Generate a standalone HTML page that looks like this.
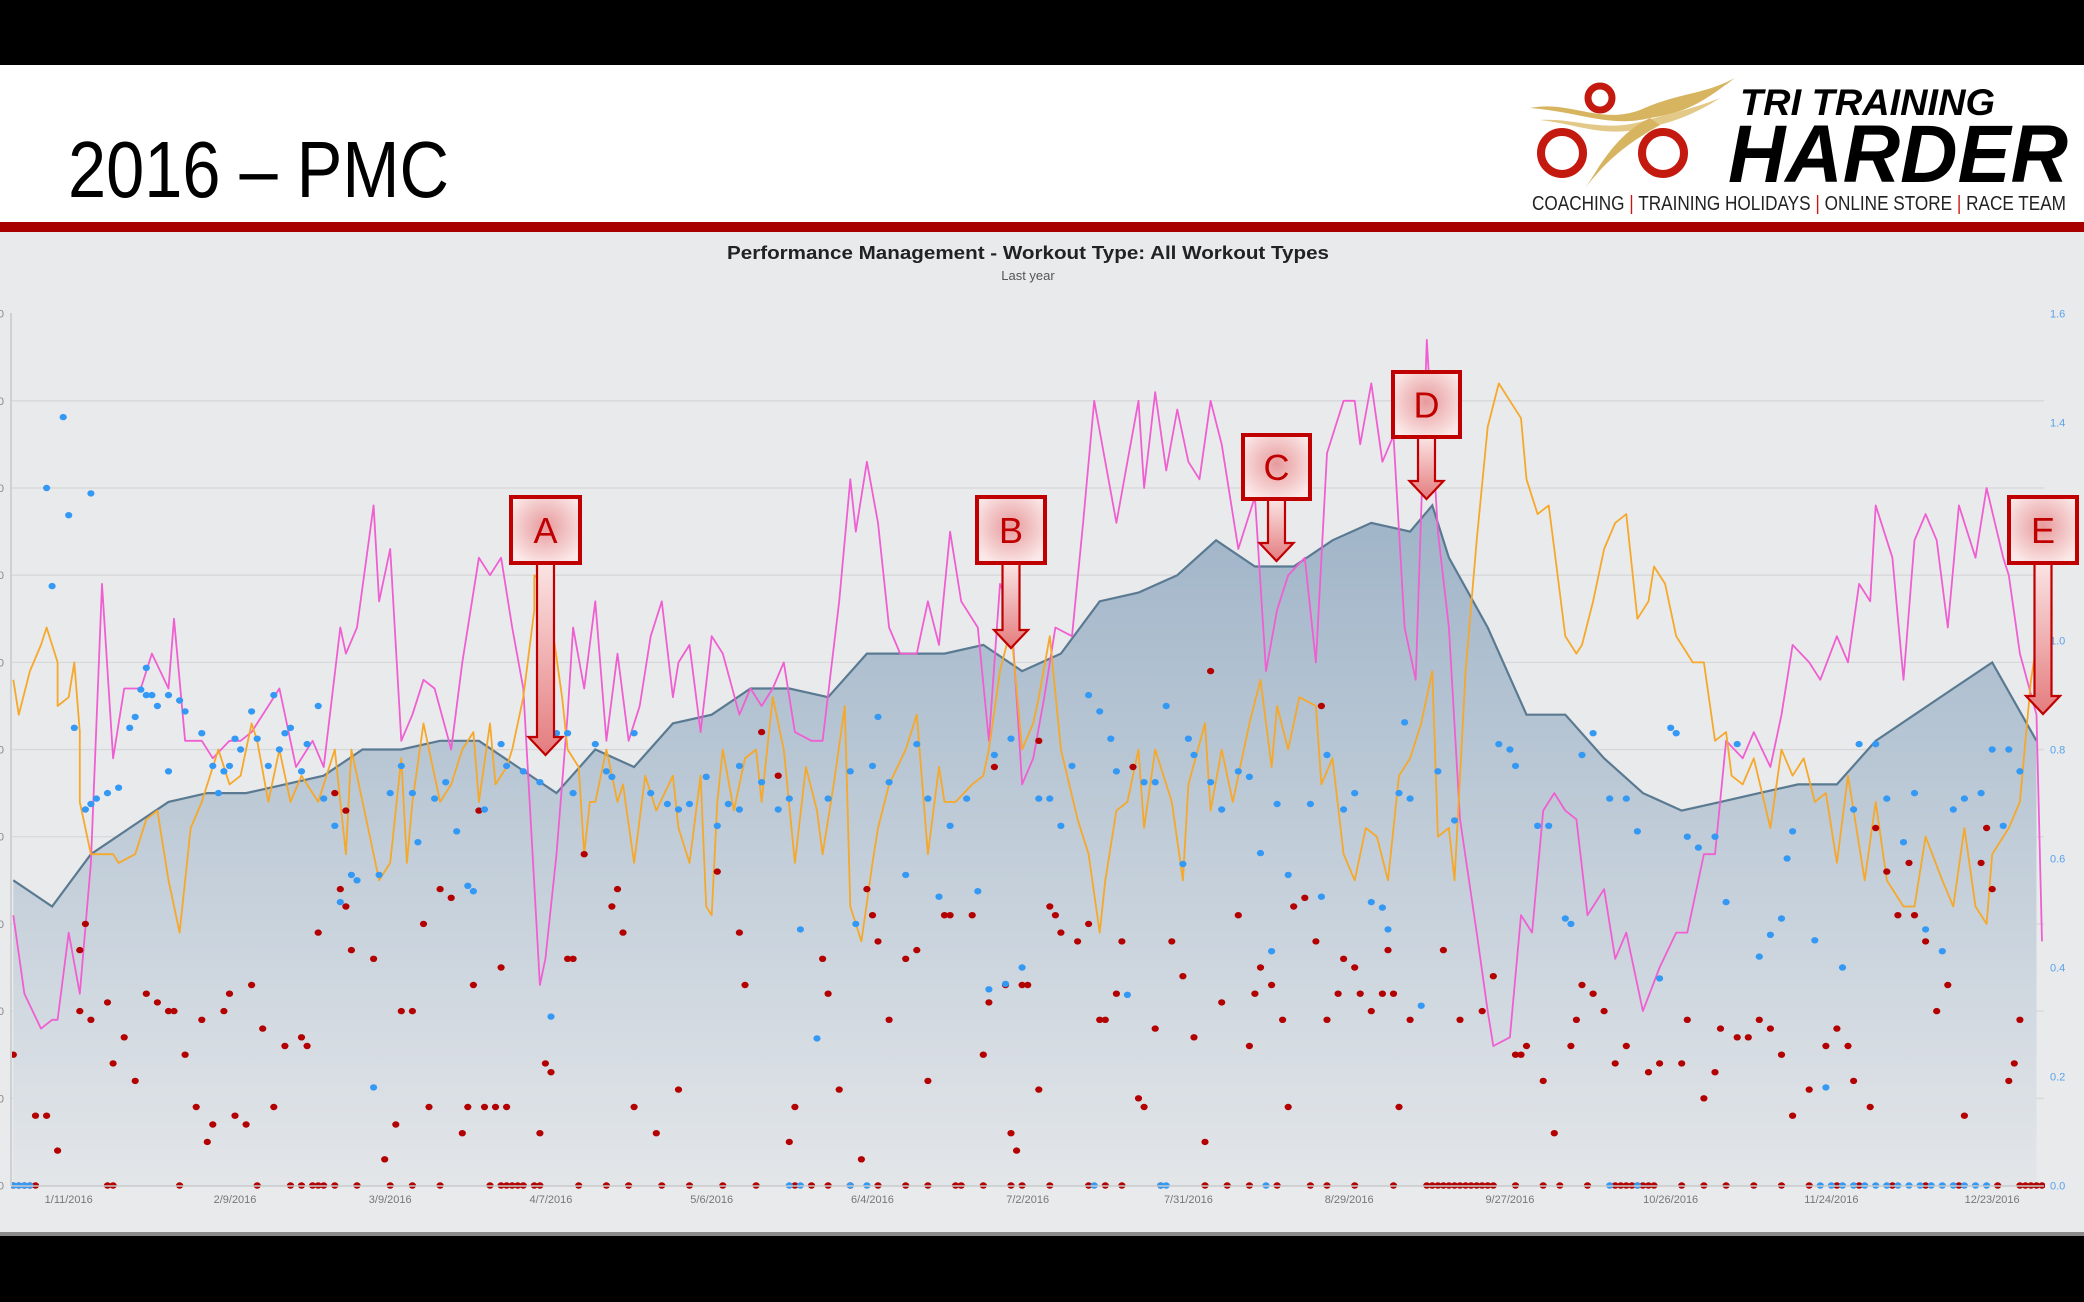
<!DOCTYPE html>
<html><head><meta charset="utf-8">
<style>
html,body{margin:0;padding:0;background:#000;}
svg{display:block;font-family:"Liberation Sans",Arial,sans-serif;}
</style></head>
<body>
<svg id="root" width="2084" height="1302" viewBox="0 0 2084 1302" xmlns="http://www.w3.org/2000/svg">
<defs>
<linearGradient id="areaGrad" x1="0" y1="0" x2="0" y2="1">
<stop offset="0" stop-color="#9fb4c8"/><stop offset="1" stop-color="#e3e6e9"/>
</linearGradient>
<radialGradient id="boxGrad" cx="0.5" cy="0.45" r="0.6">
<stop offset="0" stop-color="#e79a9c"/><stop offset="1" stop-color="#fbe8e8"/>
</radialGradient>
<linearGradient id="shaftGrad" x1="0" y1="0" x2="0" y2="1">
<stop offset="0" stop-color="#fbe4e4"/><stop offset="1" stop-color="#e47c7e"/>
</linearGradient>
<clipPath id="plotClip"><rect x="11" y="300" width="2034" height="890"/></clipPath>
</defs>
<rect x="0" y="0" width="2084" height="65" fill="#000"/>
<rect x="0" y="65" width="2084" height="157" fill="#fff"/>
<text x="68" y="197" font-size="80" fill="#000" textLength="381" lengthAdjust="spacingAndGlyphs">2016 – PMC</text>
<g>
<path d="M1530,108 C1570,100 1600,125 1640,110 C1680,92 1700,96 1735,78 C1705,100 1690,112 1650,118 C1610,128 1580,112 1530,108 Z" fill="#d7b560"/>
<path d="M1540,120 C1575,118 1600,132 1640,122 C1660,116 1690,110 1720,98 C1690,118 1660,126 1635,130 C1600,136 1575,124 1540,120 Z" fill="#e3c988"/>
<path d="M1650,118 C1625,130 1610,150 1598,168 C1592,178 1588,184 1585,188 C1600,170 1615,150 1660,125 Z" fill="#d7b560"/>
<circle cx="1600" cy="98" r="12" fill="none" stroke="#c4190f" stroke-width="7"/>
<circle cx="1562" cy="153" r="21" fill="none" stroke="#c4190f" stroke-width="8"/>
<circle cx="1663" cy="153" r="21" fill="none" stroke="#c4190f" stroke-width="8"/>
<text x="1740" y="115" font-size="37" font-weight="bold" font-style="italic" fill="#000" textLength="255" lengthAdjust="spacingAndGlyphs">TRI TRAINING</text>
<text x="1728" y="182" font-size="82" font-weight="bold" font-style="italic" fill="#000" textLength="340" lengthAdjust="spacingAndGlyphs">HARDER</text>
<text x="1532" y="210" font-size="20" fill="#222" textLength="534" lengthAdjust="spacingAndGlyphs">COACHING <tspan fill="#c4190f">|</tspan> TRAINING HOLIDAYS <tspan fill="#c4190f">|</tspan> ONLINE STORE <tspan fill="#c4190f">|</tspan> RACE TEAM</text>
</g>
<rect x="0" y="222" width="2084" height="10" fill="#a80000"/>
<rect x="0" y="232" width="2084" height="1002" fill="#e9eaec"/>
<rect x="0" y="1232" width="2084" height="4" fill="#8a8a8a"/>
<rect x="0" y="1236" width="2084" height="66" fill="#000"/>
<text x="1028" y="259" font-size="18" font-weight="bold" fill="#222" text-anchor="middle" textLength="602" lengthAdjust="spacingAndGlyphs">Performance Management - Workout Type: All Workout Types</text>
<text x="1028" y="280" font-size="13" fill="#555" text-anchor="middle">Last year</text>
<g id="grid"></g>
<g id="plot" clip-path="url(#plotClip)"></g>
<g id="axes"></g>
<g id="annotations"></g>
</svg>
<script>
const ctlDays=[0,7,14,21,28,35,42,49,56,63,70,77,84,91,98,105,112,119,126,133,140,147,154,161,168,175,182,189,196,203,210,217,224,231,238,245,252,256,259,266,273,280,287,294,301,308,315,322,329,336,343,350,357,365];
const ctlValues=[35,32,38,41,44,45,45,46,47,50,50,51,51,48,45,50,48,53,54,57,57,56,61,61,61,62,59,61,67,68,70,74,71,71,74,76,75,78,72,64,54,54,49,45,43,44,45,46,46,51,54,57,60,51];
const atlDays=[0,2,5,7,8,10,12,14,16,18,20,23,25,28,29,31,34,36,39,41,43,46,48,51,54,56,59,60,62,65,66,68,70,72,74,76,79,81,84,86,88,90,92,95,96,98,100,101,103,105,107,109,111,113,115,117,119,120,122,124,126,128,131,133,135,137,139,141,144,146,149,151,152,154,156,158,160,163,165,167,169,171,174,176,178,180,182,184,186,188,191,193,195,197,199,201,203,204,206,208,210,212,214,216,218,221,224,226,228,230,233,235,237,240,242,243,245,247,249,251,253,255,257,259,261,264,266,267,270,272,274,276,278,280,282,284,287,289,291,294,297,300,302,305,307,309,312,314,317,319,321,324,326,329,331,333,335,336,339,341,343,345,347,349,351,354,356,359,360,362,365,366];
const atlValues=[31,22,18,19,19,29,22,37,69,49,57,57,61,57,65,51,51,49,51,51,52,55,57,48,51,48,64,61,64,78,67,73,51,54,58,57,50,60,72,70,72,64,57,23,26,38,54,64,57,67,51,61,51,55,63,67,56,60,62,52,63,61,54,57,55,57,60,52,51,51,67,81,75,83,76,64,61,61,67,62,75,67,64,51,69,66,46,49,56,64,63,76,90,83,76,83,90,80,91,82,89,83,81,90,85,73,79,59,66,70,72,60,84,90,90,85,92,83,86,64,58,97,75,64,42,29,20,16,17,31,29,43,45,43,42,31,34,26,29,20,25,29,29,38,38,51,49,52,48,54,62,60,58,63,60,69,67,78,72,58,74,77,74,64,78,72,80,72,70,61,54,28];
const tsbDays=[0,1,3,5,6,7,8,8,10,11,12,12,14,16,17,18,19,22,24,26,28,30,32,34,35,37,39,41,43,44,46,48,50,52,54,55,58,60,61,64,66,68,70,71,72,74,77,79,81,83,84,86,87,89,90,92,94,94,96,97,99,100,102,103,104,105,107,109,110,112,114,116,119,120,122,124,125,126,127,128,130,132,134,135,137,139,141,143,145,146,148,150,151,153,155,156,158,161,163,165,167,168,170,173,175,176,178,180,182,184,185,187,189,192,194,196,197,199,201,203,204,206,209,211,212,215,216,218,220,223,225,227,228,230,232,235,236,238,240,242,244,246,248,250,252,254,256,257,259,260,262,264,266,268,270,272,273,275,277,278,280,282,283,285,287,289,291,293,295,296,298,300,303,305,307,309,310,312,314,317,319,321,323,325,327,329,331,332,334,336,338,341,343,345,348,350,352,354,356,357,360,362,364,366];
const tsbValues=[58,54,59,62,64,62,60,55,56,60,52,44,38,38,38,38,37,38,42,43,35,29,41,44,46,50,46,47,53,51,44,50,44,47,45,44,50,38,50,41,35,37,49,37,44,53,44,46,50,52,44,53,46,48,50,56,66,70,69,65,56,50,48,38,44,44,50,44,46,37,47,43,47,41,37,47,32,31,44,50,43,49,50,44,56,50,37,48,43,38,46,55,32,28,37,41,46,50,54,38,48,44,44,46,47,50,59,64,50,53,56,63,50,42,38,29,35,43,44,50,41,50,44,35,46,53,43,50,44,53,58,48,55,50,56,55,46,49,38,35,41,40,35,47,49,53,59,40,41,35,59,74,87,92,90,88,81,77,78,73,63,61,62,67,73,76,77,65,67,71,69,63,60,60,51,52,47,46,49,41,50,47,49,44,45,37,47,43,35,44,35,32,32,40,35,32,41,32,30,38,41,44,58,66];
const tssDays=[0,4,6,8,12,13,12,14,17,18,20,22,24,26,28,29,31,33,34,35,36,38,39,40,42,43,45,47,49,52,53,55,58,59,60,61,60,65,67,69,70,72,74,75,77,79,81,82,83,85,87,88,89,84,95,96,97,100,101,103,108,109,110,112,116,120,127,131,132,135,138,140,141,146,147,149,153,154,155,156,158,161,163,165,168,169,173,175,176,177,179,180,181,182,183,185,185,187,188,189,192,194,196,197,199,200,202,203,204,206,209,211,213,215,216,218,221,223,224,225,227,229,230,231,233,235,236,237,239,240,242,243,245,247,248,249,250,252,258,261,265,267,271,272,273,276,278,281,282,283,285,287,289,291,295,297,301,302,305,307,308,311,313,315,317,319,321,324,327,329,331,332,335,336,338,340,342,343,345,347,349,352,355,356,357,360,361,362];
const tssValues=[15,8,8,4,27,30,20,19,21,14,17,12,22,21,20,20,15,9,19,5,7,20,22,8,7,23,18,9,16,17,16,29,45,34,32,27,43,26,3,7,20,20,30,9,34,33,6,9,23,9,9,25,9,43,6,14,13,26,26,38,32,34,29,9,6,11,36,29,23,52,47,5,9,26,22,11,3,34,31,28,19,26,27,12,31,31,31,15,21,48,23,6,4,23,23,11,51,32,31,29,28,30,19,19,22,28,48,10,9,18,28,24,17,5,59,21,31,16,22,25,23,19,9,32,33,28,55,19,22,26,25,22,20,22,27,22,9,19,27,19,20,24,15,15,16,12,6,16,19,23,22,20,14,16,13,14,14,19,10,13,18,17,17,19,18,15,8,11,16,18,16,12,9,41,36,31,37,31,28,20,23,8,37,41,34,12,14,19];
const tssZeroDays=[0,1,2,3,4,17,18,30,44,50,52,54,55,56,58,62,68,72,77,86,88,89,90,91,92,94,95,102,107,111,117,122,128,134,141,144,147,151,156,161,165,170,171,175,180,182,187,194,197,200,207,215,219,223,228,234,237,242,249,255,256,257,258,259,260,261,262,263,264,265,266,267,271,276,279,284,289,290,291,292,293,294,295,296,301,305,309,314,319,324,329,333,339,345,351,358,362,363,364,365,366];
const ifDays=[6,7,9,10,14,11,13,14,15,17,19,21,22,23,24,24,25,26,28,28,30,31,34,36,37,38,39,40,41,43,44,46,47,48,49,50,52,53,55,56,58,59,61,62,65,66,68,70,72,73,76,78,80,82,83,85,88,89,92,95,97,98,100,101,105,107,108,112,115,118,120,122,125,127,129,131,131,135,138,140,142,145,147,151,152,155,156,158,161,163,165,167,169,172,174,176,177,179,180,182,185,187,189,191,194,196,198,199,201,204,206,208,211,212,213,216,218,221,223,225,227,228,230,234,236,237,240,242,245,247,248,250,251,252,254,257,260,268,270,271,275,277,280,281,283,285,288,291,293,297,299,300,302,304,307,309,311,315,317,319,320,321,325,327,330,332,333,336,338,341,343,345,348,350,352,355,357,359,360,362];
const ifValues=[1.28,1.10,1.41,1.23,1.27,0.84,0.69,0.70,0.71,0.72,0.73,0.84,0.86,0.91,0.95,0.90,0.90,0.88,0.90,0.76,0.89,0.87,0.83,0.77,0.72,0.76,0.77,0.82,0.80,0.87,0.82,0.77,0.90,0.80,0.83,0.84,0.76,0.81,0.88,0.71,0.66,0.52,0.57,0.56,0.18,0.57,0.72,0.77,0.72,0.63,0.71,0.74,0.65,0.55,0.54,0.69,0.81,0.77,0.76,0.74,0.31,0.83,0.83,0.72,0.81,0.76,0.75,0.83,0.72,0.70,0.69,0.70,0.75,0.66,0.70,0.77,0.69,0.74,0.69,0.71,0.47,0.27,0.71,0.76,0.48,0.77,0.86,0.74,0.57,0.81,0.71,0.53,0.66,0.71,0.54,0.36,0.79,0.37,0.82,0.40,0.71,0.71,0.66,0.77,0.90,0.87,0.82,0.76,0.35,0.74,0.74,0.88,0.59,0.82,0.79,0.74,0.69,0.76,0.75,0.61,0.43,0.70,0.57,0.70,0.53,0.79,0.69,0.72,0.52,0.51,0.47,0.72,0.85,0.71,0.33,0.76,0.67,0.81,0.80,0.77,0.66,0.66,0.49,0.48,0.79,0.83,0.71,0.71,0.65,0.38,0.84,0.83,0.64,0.62,0.64,0.52,0.81,0.42,0.46,0.49,0.60,0.65,0.45,0.18,0.40,0.69,0.81,0.81,0.71,0.63,0.72,0.47,0.43,0.69,0.71,0.72,0.80,0.66,0.80,0.76];
const ifZeroDays=[0,1,2,3,140,142,151,154,195,207,208,226,288,293,326,328,330,332,334,336,338,340,342,344,346,348,350,352,354,356];
const xTickDays=[10,40,68,97,126,155,183,212,241,270,299,328,357];
const xTickLabels=["1/11/2016","2/9/2016","3/9/2016","4/7/2016","5/6/2016","6/4/2016","7/2/2016","7/31/2016","8/29/2016","9/27/2016","10/26/2016","11/24/2016","12/23/2016"];
const leftTicks=[0,10,20,30,40,50,60,70,80,90,100];
const rightTicks=[0,0.2,0.4,0.6,0.8,1.0,1.2,1.4,1.6];

const NS="http://www.w3.org/2000/svg";
const X0=13.3, PXD=5.543, YB=1185.5, YT=313.6;
function xS(d){return X0+d*PXD;}
function yL(v){return YB-(v/100)*(YB-YT);}
function yR(f){return YB-(f/1.6)*(YB-YT);}
function mk(tag,attrs,parent){const e=document.createElementNS(NS,tag);for(const k in attrs)e.setAttribute(k,attrs[k]);parent.appendChild(e);return e;}
const grid=document.getElementById('grid'), plot=document.getElementById('plot'), axes=document.getElementById('axes'), ann=document.getElementById('annotations');

leftTicks.forEach(v=>{
  if(v>0&&v<100){const l=mk('line',{x1:11,x2:2044,y1:yL(v),y2:yL(v),stroke:'#d7d8da','stroke-width':1.3},grid);
  
  }
  const t=mk('text',{x:4,y:yL(v)+4,'font-size':11,fill:'#888','text-anchor':'end'},axes);
  t.textContent=String(v);
  
  
});
const ax=mk('line',{x1:11,x2:11,y1:313,y2:1186,stroke:'#cfd0d2','stroke-width':2},axes);


const bx=mk('line',{x1:11,x2:2044,y1:1186,y2:1186,stroke:'#c8c9cb','stroke-width':1.5},axes);


rightTicks.forEach(f=>{
  const t=mk('text',{x:2050,y:yR(f)+4,'font-size':11,fill:'#5aa2ea'},axes);
  t.textContent=f.toFixed(1);
  
  
});
xTickDays.forEach((d,i)=>{
  const t=mk('text',{x:xS(d),y:1203,'font-size':11,fill:'#777','text-anchor':'middle'},axes);
  t.textContent=xTickLabels[i];
  
  
});

// CTL area
let pts=ctlDays.map((d,i)=>xS(d).toFixed(1)+','+yL(ctlValues[i]).toFixed(1));
const area=mk('path',{d:'M'+xS(ctlDays[0])+','+YB+' L'+pts.join(' L')+' L'+xS(ctlDays[ctlDays.length-1])+','+YB+' Z',fill:'url(#areaGrad)'},plot);


const ctlLine=mk('polyline',{points:pts.join(' '),fill:'none',stroke:'#5a7a92','stroke-width':2.2},plot);



function line(days,vals,color,name){
  const n=Math.min(days.length,vals.length);const p=[];
  for(let i=0;i<n;i++)p.push(xS(days[i]).toFixed(1)+','+yL(vals[i]).toFixed(1));
  const l=mk('polyline',{points:p.join(' '),fill:'none',stroke:color,'stroke-width':1.8,'stroke-linejoin':'round'},plot);
  return l;
}
const atl=line(atlDays,atlValues,'#f05fd2');


const tsb=line(tsbDays,tsbValues,'#f6a82a');



function dot(x,y,c){return mk('ellipse',{cx:x.toFixed(1),cy:y.toFixed(1),rx:3.6,ry:3.2,fill:c},plot);}
const nT=Math.min(tssDays.length,tssValues.length);
for(let i=0;i<nT;i++){const e=dot(xS(tssDays[i]),yL(tssValues[i]),'#b30000');
  
  }
tssZeroDays.forEach(d=>{const e=dot(xS(d),yL(0),'#b30000');
  
  });
const nI=Math.min(ifDays.length,ifValues.length);
for(let i=0;i<nI;i++){const e=dot(xS(ifDays[i]),yR(ifValues[i]),'#3399f5');
  
  }
ifZeroDays.forEach(d=>{const e=dot(xS(d),yR(0),'#3399f5');
  
  });

// annotations
const notes=[
 {l:'A',x:511,y:497,w:69,h:66,tip:755},
 {l:'B',x:977,y:497,w:68,h:66,tip:648},
 {l:'C',x:1243,y:435,w:67,h:64,tip:561},
 {l:'D',x:1393,y:372,w:67,h:65,tip:499},
 {l:'E',x:2009,y:497,w:68,h:66,tip:714}
];
notes.forEach(n=>{
  const g=mk('g',{},ann);
  
  
  const cx=n.x+n.w/2, top=n.y+n.h, hs=n.tip-18;
  mk('path',{d:`M${cx-8.5},${top} L${cx+8.5},${top} L${cx+8.5},${hs} L${cx+17},${hs} L${cx},${n.tip} L${cx-17},${hs} L${cx-8.5},${hs} Z`,fill:'url(#shaftGrad)',stroke:'#c00000','stroke-width':2.2,'stroke-linejoin':'miter'},g);
  mk('rect',{x:n.x,y:n.y,width:n.w,height:n.h,fill:'url(#boxGrad)',stroke:'#c00000','stroke-width':4},g);
  const t=mk('text',{x:cx,y:n.y+n.h/2+13,'font-size':36,fill:'#c00000','text-anchor':'middle'},g);
  t.textContent=n.l;
});
</script>
</body></html>
